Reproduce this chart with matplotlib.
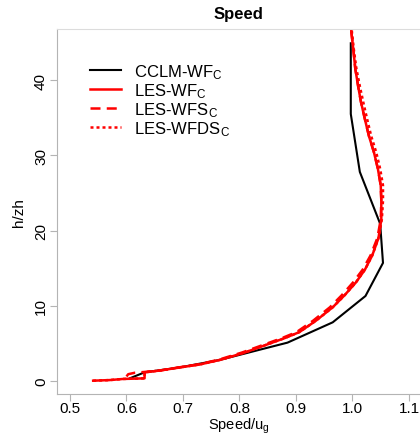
import matplotlib
matplotlib.use("Agg")
import matplotlib.pyplot as plt

plt.rcParams["font.family"] = ["Liberation Sans", "DejaVu Sans"]
plt.rcParams["mathtext.fontset"] = "custom"
plt.rcParams["mathtext.rm"] = "Liberation Sans"
plt.rcParams["mathtext.it"] = "Liberation Sans:italic"

# CCLM-WF_C profile
cclm_speed = [0.606, 0.632, 0.694, 0.765, 0.885, 0.965, 1.023, 1.054, 1.049, 1.013, 0.997, 0.997]
cclm_h = [0.36, 1.15, 1.8, 2.8, 5.1, 7.8, 11.3, 15.7, 20.9, 27.8, 35.5, 44.9]

# LES-WF_C profile
les_speed = [0.541, 0.57, 0.594, 0.632, 0.632, 0.66, 0.694, 0.73, 0.768, 0.81, 0.847,
             0.88, 0.906, 0.935, 0.965, 0.986, 1.006, 1.022, 1.035, 1.046, 1.051, 1.051,
             1.050, 1.045, 1.038, 1.029, 1.022, 1.015, 1.010, 1.005, 1.002, 0.998, 0.997]
les_h = [0.04, 0.12, 0.27, 0.35, 1.15, 1.4, 1.8, 2.2, 2.85, 3.8, 4.8,
         5.7, 6.5, 8.0, 9.8, 11.4, 13.1, 14.8, 16.7, 19.0, 21.5, 24.0,
         26.0, 28.2, 30.4, 32.6, 34.8, 37.1, 39.2, 41.5, 43.7, 46.4, 48.0]

# LES-WFS_C profile
wfs_speed = [0.600, 0.603, 0.615, 0.64, 0.66, 0.692, 0.727, 0.764, 0.805, 0.842,
             0.875, 0.901, 0.930, 0.960, 0.981, 1.001, 1.018, 1.032, 1.044, 1.050, 1.051,
             1.050, 1.045, 1.038, 1.029, 1.022, 1.015, 1.010, 1.005, 1.002, 0.998, 0.997]
wfs_h = [0.6, 0.9, 1.1, 1.25, 1.4, 1.8, 2.2, 2.85, 3.8, 4.8,
         5.7, 6.5, 8.0, 9.8, 11.4, 13.1, 14.8, 16.7, 19.0, 21.5, 24.0,
         26.0, 28.2, 30.4, 32.6, 34.8, 37.1, 39.2, 41.5, 43.7, 46.4, 48.0]

# LES-WFDS_C profile
wfds_speed = [0.541, 0.57, 0.594, 0.632, 0.632, 0.66, 0.694, 0.73, 0.768, 0.81, 0.847,
              0.88, 0.906, 0.935, 0.965, 0.986, 1.006, 1.022, 1.035, 1.046, 1.052, 1.054,
              1.054, 1.049, 1.042, 1.033, 1.026, 1.019, 1.013, 1.007, 1.003, 0.999, 0.998]
wfds_h = [0.04, 0.12, 0.27, 0.35, 1.15, 1.4, 1.8, 2.2, 2.85, 3.8, 4.8,
          5.7, 6.5, 8.0, 9.8, 11.4, 13.1, 14.8, 16.7, 19.0, 21.5, 24.0,
          26.0, 28.2, 30.4, 32.6, 34.8, 37.1, 39.2, 41.5, 43.7, 46.4, 48.0]

labels = ["CCLM-WF$_\\mathrm{C}$", "LES-WF$_\\mathrm{C}$",
          "LES-WFS$_\\mathrm{C}$", "LES-WFDS$_\\mathrm{C}$"]
x_ticks = [0.5, 0.6, 0.7, 0.8, 0.9, 1.0, 1.1]
y_ticks = [0, 10, 20, 30, 40]

fig = plt.figure(figsize=(4.2, 4.35), dpi=100)
ax = fig.add_axes([57 / 420, 1 - 395 / 435, 1 - 57 / 420, (395 - 30) / 435])

ax.plot(cclm_speed, cclm_h, color="black", lw=1.5, label=labels[0])
ax.plot(les_speed, les_h, color="red", lw=1.8, label=labels[1])
ax.plot(wfs_speed, wfs_h, color="red", lw=1.8, dashes=(4, 2.5), label=labels[2])
ax.plot(wfds_speed, wfds_h, color="red", lw=1.8, dashes=(1.2, 1.2), label=labels[3])

ax.set_xlim(0.477, 1.1195)
ax.set_ylim(-1.73, 46.8)
ax.set_xticks(x_ticks)
ax.set_xticklabels([f"{t:.1f}" for t in x_ticks])
ax.set_yticks(y_ticks)
ax.set_yticklabels([str(t) for t in y_ticks], rotation=90, va="center")

for side in ["left", "bottom"]:
    ax.spines[side].set_color("#b4b4b4")
ax.spines["top"].set_color("#dcdcdc")
ax.spines["right"].set_visible(False)
ax.tick_params(colors="#b4b4b4", labelcolor="black", labelsize=11, length=5, width=0.8)
ax.tick_params(axis="x", pad=0)
ax.tick_params(axis="y", pad=1.5)

ax.set_xlabel("Speed/u$_\\mathrm{g}$", fontsize=10.5)
ax.xaxis.set_label_coords(0.5, -0.06)
ax.set_ylabel("h/zh", fontsize=11, labelpad=6)
ax.set_title("Speed", fontsize=12, fontweight="bold", pad=8)

ax.legend(loc="upper left", bbox_to_anchor=(0.091, 0.91), frameon=False, fontsize=12,
          handlelength=1.85, handletextpad=0.8, labelspacing=0.02, borderpad=0, borderaxespad=0)

fig.savefig("out.png", dpi=100)
